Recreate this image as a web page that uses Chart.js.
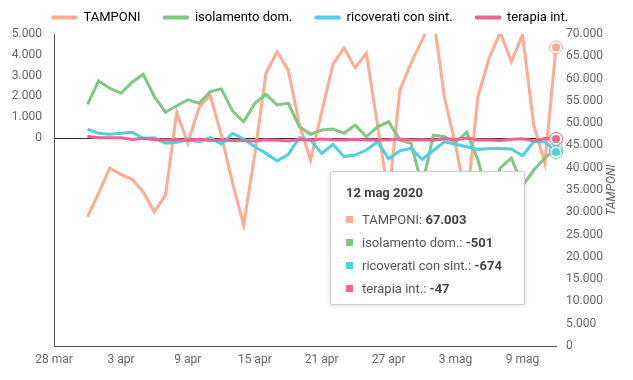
<!DOCTYPE html>
<html lang="it">
<head>
<meta charset="utf-8">
<title>Variazioni giornaliere</title>
<script src="https://cdn.jsdelivr.net/npm/chart.js@4.4.1/dist/chart.umd.min.js"></script>
<style>
  html, body { margin: 0; padding: 0; background: #fff; }
  #wrap { position: relative; width: 633px; height: 380px; }
  #tip {
    position: absolute; left: 330px; top: 171px;
    width: 195px; height: 134px; box-sizing: border-box;
    padding: 12px 10px 5px 15px;
    background: #fff; border: 1px solid #d0d0d0; border-radius: 2px;
    box-shadow: 0 1px 4px rgba(0,0,0,0.15);
    font-family: Roboto, sans-serif; color: #555; font-size: 13px;
    pointer-events: none; opacity: 0;
  }
  #tip .titolo { font-weight: bold; color: #444; line-height: 18px; margin-bottom: 6px; }
  #tip .riga { display: flex; align-items: center; line-height: 23px; white-space: nowrap; }
  #tip .sq { width: 7px; height: 7px; margin-right: 9px; flex: none; }
  #tip b { color: #444; }
</style>
</head>
<body>
<div id="wrap">
  <canvas id="grafico"></canvas>
  <div id="tip"></div>
</div>
<script>
// giorni (asse x)
const giorni = [
  '28 mar', '29 mar', '30 mar', '31 mar',
  '1 apr', '2 apr', '3 apr', '4 apr', '5 apr', '6 apr', '7 apr', '8 apr', '9 apr', '10 apr',
  '11 apr', '12 apr', '13 apr', '14 apr', '15 apr', '16 apr', '17 apr', '18 apr', '19 apr', '20 apr',
  '21 apr', '22 apr', '23 apr', '24 apr', '25 apr', '26 apr', '27 apr', '28 apr', '29 apr', '30 apr',
  '1 mag', '2 mag', '3 mag', '4 mag', '5 mag', '6 mag', '7 mag', '8 mag', '9 mag', '10 mag',
  '11 mag', '12 mag'
];

// variazioni giornaliere
const tamponi = [
  null, null, null, 29000,
  34300, 39900, 38500, 37400, 34500, 30100, 33900, 52400, 45500, 53500,
  56300, 47300, 36600, 27100, 43100, 61200, 66000, 61900, 49600, 41700,
  52500, 63200, 66900, 62400, 65700, 49600, 33600, 57400, 63400, 68700,
  74000, 55800, 45000, 32000, 55900, 64500, 70400, 63800, 69800, 49600,
  41000, 67003
];
const isolamento = [
  null, null, null, 1620,
  2740, 2390, 2150, 2680, 3060, 1990, 1240, 1550, 1830, 1670,
  2230, 2360, 1300, 780, 1670, 2100, 1590, 1670, 540, 180,
  380, 430, 230, 620, 60, 540, 780, -100, -250, -2300,
  140, 60, -200, 280, -1050, -3000, -1440, -960, -2300, -1540,
  -960, -501
];
const ricoverati = [
  null, null, null, 430,
  225, 180, 225, 275, -15, 15, -255, -205, -100, -180,
  15, -300, 230, -50, -420, -740, -1100, -790, 15, -100,
  -740, -300, -900, -820, -580, -180, -1000, -620, -500, -1030,
  -600, -180, -300, -420, -550, -500, -500, -530, -850, -180,
  -180, -674
];
const terapia = [
  null, null, null, 75,
  12, 18, 15, -74, -17, -79, -99, -88, -109, -60,
  -118, -102, -121, -116, -143, -82, -105, -141, -71, -108,
  -51, -84, -97, -63, -94, -93, -79, -53, -98, -84,
  -104, -39, -69, -6, -98, -94, -115, -60, -35, -141,
  -20, -47
];

const nomi = ['TAMPONI', 'isolamento dom.', 'ricoverati con sint.', 'terapia int.'];
const colori = ['#FFAB91', '#81C784', '#4DD0E1', '#F06292'];
const valori = [tamponi, isolamento, ricoverati, terapia];
const assi = ['yT', 'y', 'y', 'y'];

const fmt = v => (v < 0 ? '-' : '') + String(Math.abs(v)).replace(/\B(?=(\d{3})+(?!\d))/g, '.');

Chart.defaults.font.family = 'Roboto, sans-serif';
Chart.defaults.font.size = 12;
Chart.defaults.color = '#666';

// tooltip html con valori in grassetto
const tooltipHtml = (context) => {
  const { tooltip } = context;
  const el = document.getElementById('tip');
  if (!tooltip.dataPoints || !tooltip.dataPoints.length) { el.style.opacity = 0; return; }
  const idx = tooltip.dataPoints[0].dataIndex;
  let html = '<div class="titolo">' + giorni[idx] + ' 2020</div>';
  tooltip.dataPoints.forEach(p => {
    html += '<div class="riga"><span class="sq" style="background:' + p.dataset.borderColor + '"></span>' +
      p.dataset.label + ':&nbsp;<b>' + fmt(p.raw) + '</b></div>';
  });
  el.innerHTML = html;
  el.style.opacity = 1;
};

// anello esterno sui punti attivi
const anello = {
  id: 'anello',
  afterDatasetsDraw(chart) {
    const ctx = chart.ctx;
    chart.getActiveElements().forEach(a => {
      ctx.save();
      ctx.beginPath();
      ctx.arc(a.element.x, a.element.y, 6.5, 0, Math.PI * 2);
      ctx.strokeStyle = chart.data.datasets[a.datasetIndex].borderColor;
      ctx.lineWidth = 1;
      ctx.stroke();
      ctx.restore();
    });
  }
};

// titolo asse destro, letto dal basso verso l'alto
const titoloDestro = {
  id: 'titoloDestro',
  afterDraw(chart) {
    const s = chart.scales.yT;
    const ctx = chart.ctx;
    ctx.save();
    ctx.translate(s.right - 21, (s.top + s.bottom) / 2);
    ctx.rotate(-Math.PI / 2);
    ctx.font = 'italic 12px Roboto, sans-serif';
    ctx.fillStyle = '#666';
    ctx.textAlign = 'center';
    ctx.textBaseline = 'middle';
    ctx.fillText('TAMPONI', 0, 0);
    ctx.restore();
  }
};

const ctx = document.getElementById('grafico').getContext('2d');
const chart = new Chart(ctx, {
  type: 'line',
  data: {
    labels: giorni,
    datasets: nomi.map((n, i) => ({
      label: n,
      data: valori[i],
      yAxisID: assi[i],
      order: nomi.length - i, // le ultime serie sopra
      borderColor: colori[i],
      backgroundColor: colori[i],
      borderWidth: 3,
      tension: 0,
      fill: false,
      pointRadius: 0,
      pointHoverRadius: 5,
      pointHoverBorderWidth: 2,
      pointHoverBorderColor: '#fff',
      pointHoverBackgroundColor: colori[i],
      clip: { left: 10, right: 10, top: 0, bottom: 0 }
    }))
  },
  options: {
    responsive: true,
    maintainAspectRatio: false,
    animation: false,
    events: [],
    layout: { padding: { top: 1 } },
    plugins: {
      legend: {
        position: 'top',
        labels: {
          boxWidth: 25,
          boxHeight: 3,
          padding: 10,
          color: '#666',
          font: { size: 13 },
          generateLabels: (c) => c.data.datasets.map((ds, i) => ({
            text: ds.label + '    ',
            fillStyle: ds.borderColor,
            strokeStyle: ds.borderColor,
            lineWidth: 1,
            hidden: false,
            datasetIndex: i
          }))
        }
      },
      tooltip: {
        enabled: false,
        external: tooltipHtml
      }
    },
    scales: {
      x: {
        type: 'category',
        offset: false,
        grid: { display: false, drawTicks: false },
        border: { display: true, color: '#555' },
        ticks: {
          autoSkip: false,
          maxRotation: 0,
          minRotation: 0,
          padding: 7,
          callback: function (v, i) { return i % 6 === 0 ? this.getLabelForValue(v) : ''; }
        },
        afterFit: (s) => { s.height = 34; }
      },
      y: {
        position: 'left',
        min: -10000,
        max: 5000,
        ticks: {
          stepSize: 1000,
          autoSkip: false,
          padding: 12,
          callback: v => v < 0 ? '' : fmt(v)
        },
        grid: {
          drawTicks: false,
          color: c => (c.tick && c.tick.value === 0) ? '#333' : 'rgba(0,0,0,0)'
        },
        border: { display: true, color: '#555' },
        afterFit: (s) => { s.width = 54; }
      },
      yT: {
        position: 'right',
        min: 0,
        max: 70000,
        ticks: {
          stepSize: 5000,
          autoSkip: false,
          padding: 10,
          callback: v => fmt(v)
        },
        grid: { display: false, drawTicks: false },
        border: { display: false },
        afterFit: (s) => { s.width = 77; }
      }
    }
  },
  plugins: [anello, titoloDestro]
});

// evidenzia l'ultimo giorno
const ultimo = giorni.length - 1;
const attivi = nomi.map((n, i) => ({ datasetIndex: i, index: ultimo }));
chart.setActiveElements(attivi);
chart.tooltip.setActiveElements(attivi, { x: chart.chartArea.right, y: chart.chartArea.top });
chart.update();
</script>
</body>
</html>
